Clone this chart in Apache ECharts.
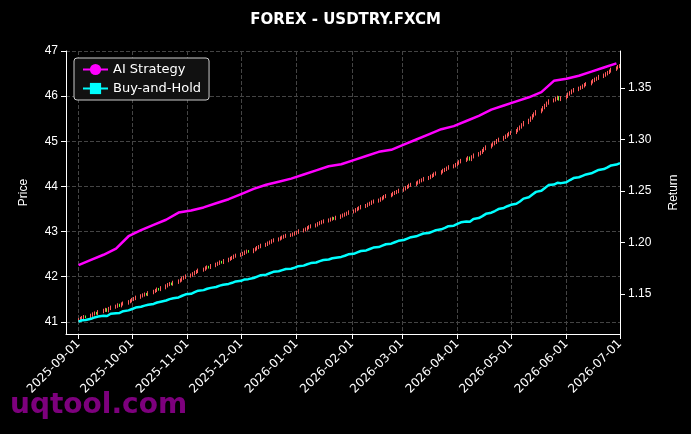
<!DOCTYPE html><html><head><meta charset="utf-8"><script src="https://cdn.jsdelivr.net/npm/echarts@6/dist/echarts.min.js"></script>
<style>html,body{margin:0;background:#000}#c{width:691px;height:434px}</style></head><body><div id="c"></div><script>
const closes=[41.05,41.08,41.10,41.12,41.11,41.15,41.18,41.20,41.19,41.23,41.26,41.28,41.25,41.30,41.33,41.35,41.38,41.36,41.40,41.42,41.45,41.47,
41.50,41.52,41.55,41.58,41.60,41.62,41.61,41.65,41.68,41.70,41.73,41.72,41.76,41.80,41.83,41.85,41.84,41.88,41.91,41.93,41.97,41.99,42.02,
42.04,42.07,42.10,42.12,42.15,42.17,42.20,42.22,42.21,42.25,42.28,42.30,42.33,42.32,42.36,42.39,42.41,42.43,42.46,42.48,
42.50,42.52,42.55,42.57,42.56,42.60,42.62,42.65,42.67,42.70,42.72,42.75,42.77,42.80,42.82,42.84,42.86,42.88,42.90,42.92,42.93,42.95,42.97,
42.99,43.02,43.04,43.06,43.09,43.11,43.13,43.15,43.18,43.20,43.22,43.24,43.26,43.28,43.30,43.29,43.32,43.35,43.37,43.39,43.41,43.44,
43.46,43.49,43.51,43.53,43.56,43.58,43.61,43.63,43.66,43.68,43.70,43.73,43.75,43.78,43.80,43.82,43.85,43.87,43.89,43.92,
43.95,43.98,44.00,44.03,44.05,44.08,44.10,44.13,44.15,44.18,44.20,44.23,44.25,44.28,44.30,44.33,44.36,44.38,44.41,44.44,44.46,44.49,
44.52,44.55,44.58,44.61,44.64,44.60,44.66,44.70,44.73,44.76,44.80,44.84,44.88,44.92,44.95,44.98,45.02,45.05,45.09,45.12,45.15,45.18,
45.20,45.24,45.28,45.32,45.37,45.42,45.47,45.52,45.57,45.61,45.66,45.70,45.75,45.80,45.85,45.90,45.92,45.95,45.98,45.93,45.97,
46.00,46.05,46.08,46.12,46.15,46.18,46.20,46.23,46.26,46.28,46.32,46.35,46.38,46.40,46.44,46.47,46.50,46.53,46.56,46.60,46.63,46.66,46.68];
const aiWeekly=[1.178,1.183,1.188,1.194,1.206,1.212,1.217,1.222,1.229,1.231,1.234,1.238,1.242,1.247,1.252,1.256,1.259,1.262,1.266,1.270,1.274,1.276,1.280,1.284,1.288,1.290,1.295,1.300,1.305,1.310,1.313,1.318,1.323,1.329,1.333,1.337,1.341,1.346,1.357,1.359,1.362,1.366,1.370,1.374];
const bhStart=1.123;
const priceTicks=[41,42,43,44,45,46,47];
const returnTicks=[1.15,1.2,1.25,1.3,1.35];
const DAY=86400000;
const dates=[];let t=Date.UTC(2025,8,1);
while(dates.length<closes.length){const d=new Date(t).getUTCDay();if(d!==0&&d!==6)dates.push(t);t+=DAY;}
const candles=closes.map((c,i)=>{const o=i?closes[i-1]-0.01:c-0.02;return [dates[i],o,c,Math.min(o,c)-0.03,Math.max(o,c)+0.03];});
const bh=closes.map((c,i)=>[dates[i],bhStart*c/closes[0]]);
const ai=aiWeekly.map((v,i)=>[Date.UTC(2025,8,1)+i*7*DAY,v]);
const ch=echarts.init(document.getElementById('c'));
const fmt=v=>{const d=new Date(v);const p=n=>String(n).padStart(2,'0');return d.getFullYear()+'-'+p(d.getMonth()+1)+'-'+p(d.getDate());};
ch.setOption({backgroundColor:'#000',animation:false,
title:{text:'FOREX - USDTRY.FXCM',left:'center',top:8,textStyle:{color:'#fff',fontSize:15,fontWeight:'bold',fontFamily:'DejaVu Sans'}},
legend:{left:74,top:58,orient:'vertical',backgroundColor:'#111',borderColor:'#ccc',borderWidth:1,borderRadius:3,padding:[5,8],itemGap:6,textStyle:{color:'#fff',fontSize:13,fontFamily:'DejaVu Sans'},data:['AI Strategy','Buy-and-Hold']},
grid:{left:66,right:71,top:51,bottom:100},
xAxis:{type:'time',min:Date.UTC(2025,7,25),max:Date.UTC(2026,6,1),splitNumber:11,
axisLine:{lineStyle:{color:'#fff'}},axisTick:{lineStyle:{color:'#fff'}},
axisLabel:{rotate:45,color:'#fff',fontSize:12,fontFamily:'DejaVu Sans',formatter:fmt,showMinLabel:false,hideOverlap:false},
splitLine:{show:true,lineStyle:{color:'#444',type:'dashed'}}},
yAxis:[{type:'value',min:40.73,max:47,name:'Price',nameLocation:'middle',nameGap:36,nameTextStyle:{color:'#fff',fontSize:12},
axisLine:{show:true,lineStyle:{color:'#fff'}},axisLabel:{color:'#fff',fontSize:12,customValues:priceTicks},axisTick:{show:true,customValues:priceTicks},
splitLine:{lineStyle:{color:'#444',type:'dashed'}}},
{type:'value',min:1.111,max:1.386,name:'Return',nameLocation:'middle',nameGap:48,nameRotate:90,nameTextStyle:{color:'#fff',fontSize:12},
axisLine:{show:true,lineStyle:{color:'#fff'}},axisTick:{show:true,customValues:returnTicks},axisLabel:{color:'#fff',fontSize:12,customValues:returnTicks,formatter:v=>v.toFixed(2)},splitLine:{show:false}}],
series:[
{type:'candlestick',name:'Price',data:candles,barMaxWidth:2,itemStyle:{color:'#ff5a5a',color0:'#66ff33',borderColor:'#ff5a5a',borderColor0:'#66ff33'}},
{type:'line',name:'AI Strategy',yAxisIndex:1,data:ai,color:'#ff00ff',symbol:'circle',symbolSize:4,showSymbol:false,lineStyle:{width:2.5}},
{type:'line',name:'Buy-and-Hold',yAxisIndex:1,data:bh,color:'#00ffff',symbol:'rect',symbolSize:4,showSymbol:false,lineStyle:{width:2.5}}
],
graphic:[{type:'text',left:10,top:392,style:{text:'uqtool.com',fill:'#8b008b',font:'bold 28px DejaVu Sans',opacity:0.9}}]
});
</script></body></html>
